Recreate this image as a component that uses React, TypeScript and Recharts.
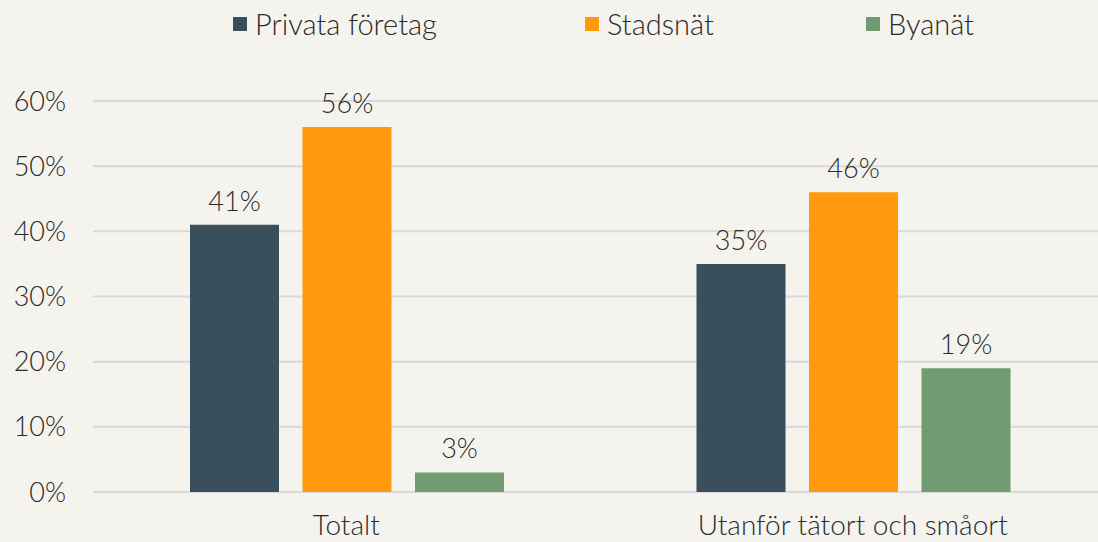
import React from "react";
import { BarChart, Bar, XAxis, YAxis, CartesianGrid, LabelList, Legend } from "recharts";

const categories = ["Totalt", "Utanför tätort och småort"];
const privata = [0.41, 0.35];
const stadsnat = [0.56, 0.46];
const byanat = [0.03, 0.19];
const yTicks = [0, 0.1, 0.2, 0.3, 0.4, 0.5, 0.6];

const seriesNames = ["Privata företag", "Stadsnät", "Byanät"];
const seriesColors = ["#3a4f5c", "#ff990d", "#719c72"];

const data = categories.map((c, i) => ({
  name: c,
  privata: privata[i],
  stadsnat: stadsnat[i],
  byanat: byanat[i],
}));

const FONT = "Lato, 'Open Sans', sans-serif";
const TEXT = "#2b2b2b";
const FS = 27;
const FW = 300;
const pct = (v: number) => `${Math.round(v * 100)}%`;

const legendOffsets = [233, 585, 866];

const CustomLegend = () => (
  <div style={{ position: "relative", width: 1098, height: 50 }}>
    {seriesNames.map((n, i) => (
      <div
        key={n}
        style={{
          position: "absolute",
          left: legendOffsets[i],
          top: 6,
          display: "flex",
          alignItems: "center",
          fontFamily: FONT,
          fontSize: 29,
          fontWeight: FW,
          color: TEXT,
          whiteSpace: "nowrap",
        }}
      >
        <span style={{ display: "inline-block", width: 14, height: 14, background: seriesColors[i], marginRight: 8 }} />
        {n}
      </div>
    ))}
  </div>
);

const textStyle = { fontFamily: FONT, fontSize: FS, fontWeight: FW, fill: TEXT };

export default function App() {
  return (
    <div style={{ position: "absolute", left: 0, top: 0, width: 1098, height: 542, overflow: "hidden", background: "#f4f3ed" }}>
      <BarChart
        width={1106}
        height={542}
        data={data}
        margin={{ top: 51, right: 0, bottom: 0, left: 0 }}
        barCategoryGap={97}
        barGap={23.5}
      >
        <CartesianGrid vertical={false} stroke="#d9d9d9" strokeWidth={2} />
        <XAxis
          dataKey="name"
          axisLine={false}
          tickLine={false}
          tickSize={0}
          tickMargin={23}
          height={50}
          tick={{ ...textStyle, fontSize: 28 }}
        />
        <YAxis
          width={93}
          domain={[0, 0.6]}
          ticks={yTicks}
          tickFormatter={pct}
          axisLine={false}
          tickLine={false}
          tickSize={0}
          tickMargin={27}
          tick={textStyle}
        />
        <Legend verticalAlign="top" height={50} content={CustomLegend} wrapperStyle={{ top: 0, left: 0 }} />
        <Bar dataKey="privata" name={seriesNames[0]} fill={seriesColors[0]} isAnimationActive={false}>
          <LabelList dataKey="privata" position="top" offset={14} formatter={pct} style={textStyle} />
        </Bar>
        <Bar dataKey="stadsnat" name={seriesNames[1]} fill={seriesColors[1]} isAnimationActive={false}>
          <LabelList dataKey="stadsnat" position="top" offset={14} formatter={pct} style={textStyle} />
        </Bar>
        <Bar dataKey="byanat" name={seriesNames[2]} fill={seriesColors[2]} isAnimationActive={false}>
          <LabelList dataKey="byanat" position="top" offset={14} formatter={pct} style={textStyle} />
        </Bar>
      </BarChart>
    </div>
  );
}
